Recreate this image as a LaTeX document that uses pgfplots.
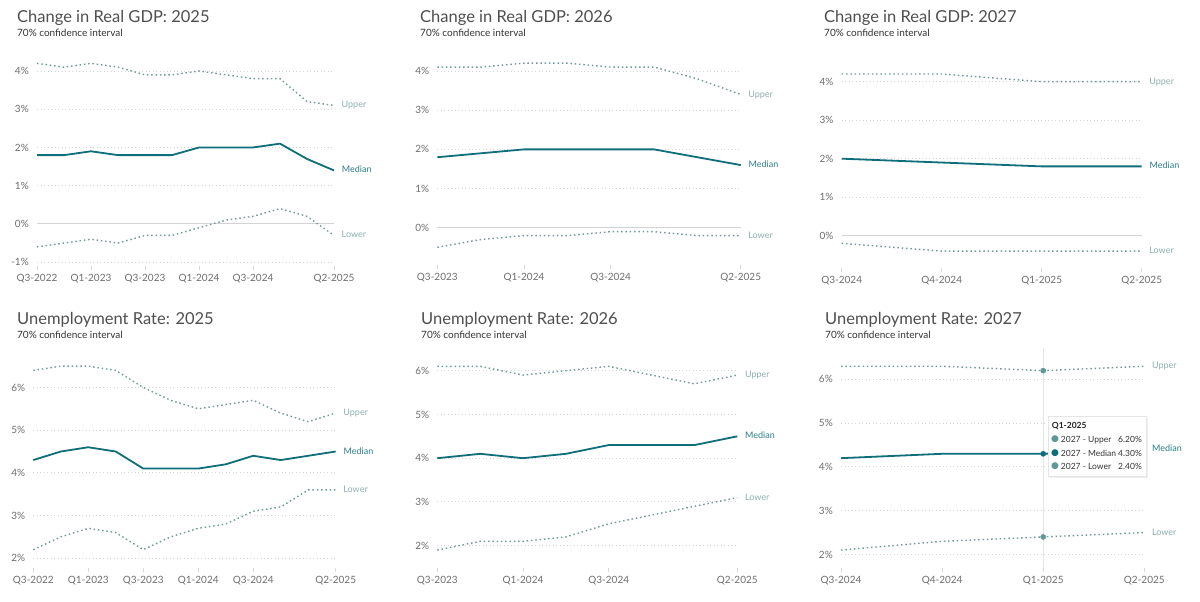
\documentclass[border=0pt]{standalone}
\usepackage{pgfplots}
\pgfplotsset{compat=1.18}
\usepackage{pgfplotstable}
\usepackage{fontspec}
\setmainfont{Lato}
\newfontfamily\symfont{DejaVu Sans}

\definecolor{medc}{HTML}{0E6E7A}
\definecolor{bandc}{HTML}{6F9A9A}
\definecolor{uplbl}{HTML}{8DB0B0}
\definecolor{medlbl}{HTML}{2B7E88}
\definecolor{gridc}{HTML}{D4D4D4}
\definecolor{zeroc}{HTML}{D3D3D3}
\definecolor{tickc}{HTML}{6E6E6E}
\definecolor{tickmc}{HTML}{D9D9D9}
\definecolor{titlec}{HTML}{4F4F4F}
\definecolor{subc}{HTML}{333333}
\definecolor{hoverc}{HTML}{E4E4E4}
\definecolor{dotc}{HTML}{5F9995}

\newcommand\titlef{\fontsize{16.5bp}{20bp}\selectfont}
\newcommand\subf{\fontsize{10bp}{12bp}\selectfont}
\newcommand\tickf{\fontsize{10bp}{12bp}\selectfont}
\newcommand\lblf{\fontsize{9bp}{11bp}\selectfont}
\newcommand\tipf{\fontsize{8.5bp}{10bp}\selectfont}

% x = quarter index from the first quarter shown
\pgfplotstableread{
x U M L
0 4.2 1.8 -0.6
1 4.1 1.8 -0.5
2 4.2 1.9 -0.4
3 4.1 1.8 -0.5
4 3.9 1.8 -0.3
5 3.9 1.8 -0.3
6 4.0 2.0 -0.1
7 3.9 2.0 0.1
8 3.8 2.0 0.2
9 3.8 2.1 0.4
10 3.2 1.7 0.2
11 3.1 1.4 -0.3
}\gdpA
\pgfplotstableread{
x U M L
0 4.1 1.8 -0.5
1 4.1 1.9 -0.3
2 4.2 2.0 -0.2
3 4.2 2.0 -0.2
4 4.1 2.0 -0.1
5 4.1 2.0 -0.1
6 3.8 1.8 -0.2
7 3.4 1.6 -0.2
}\gdpB
\pgfplotstableread{
x U M L
0 4.2 2.0 -0.2
1 4.2 1.9 -0.4
2 4.0 1.8 -0.4
3 4.0 1.8 -0.4
}\gdpC
\pgfplotstableread{
x U M L
0 6.4 4.3 2.2
1 6.5 4.5 2.5
2 6.5 4.6 2.7
3 6.4 4.5 2.6
4 6.0 4.1 2.2
5 5.7 4.1 2.5
6 5.5 4.1 2.7
7 5.6 4.2 2.8
8 5.7 4.4 3.1
9 5.4 4.3 3.2
10 5.2 4.4 3.6
11 5.4 4.5 3.6
}\unA
\pgfplotstableread{
x U M L
0 6.1 4.0 1.9
1 6.1 4.1 2.1
2 5.9 4.0 2.1
3 6.0 4.1 2.2
4 6.1 4.3 2.5
5 5.9 4.3 2.7
6 5.7 4.3 2.9
7 5.9 4.5 3.1
}\unB
\pgfplotstableread{
x U M L
0 6.3 4.2 2.1
1 6.3 4.3 2.3
2 6.2 4.3 2.4
3 6.3 4.4 2.5
}\unC

\pgfplotsset{
  panel/.style={
    scale only axis, anchor=south west, clip=false,
    axis line style={draw=none},
    ymajorgrids,
    major grid style={draw=gridc, line width=0.9bp, dash pattern=on 1bp off 2.5bp},
    tick label style={font=\tickf, text=tickc},
    xtick pos=bottom, ytick pos=left,
    tick align=outside, major tick length=4bp,
    xtick style={draw=tickmc, line width=0.8bp},
    ytick style={draw=none},
    xticklabel style={inner sep=0pt, yshift=-4bp},
    yticklabel style={inner sep=0pt, xshift=-4bp},
  },
  zeroline/.style={extra y ticks={0}, extra y tick labels={0\%},
    extra y tick style={major grid style={solid, draw=zeroc, line width=1.1bp}}},
  longq/.style={xmin=0, xmax=11, xtick={0,2,4,6,8,11},
    xticklabels={Q3-2022,Q1-2023,Q3-2023,Q1-2024,Q3-2024,Q2-2025}},
  midq/.style={xmin=0, xmax=7, xtick={0,2,4,7},
    xticklabels={Q3-2023,Q1-2024,Q3-2024,Q2-2025}},
  shortq/.style={xmin=0, xmax=3, xtick={0,1,2,3},
    xticklabels={Q3-2024,Q4-2024,Q1-2025,Q2-2025}},
  band/.style={no marks, draw=bandc, line width=1.4bp, dash pattern=on 1.5bp off 2.8bp},
  mid/.style={no marks, draw=medc, line width=1.8bp, line join=round},
}
\tikzset{lbl/.style={anchor=mid west, inner sep=0pt, xshift=7bp, font=\lblf}}

\begin{document}
\begin{tikzpicture}
\useasboundingbox (0,0) rectangle (1200bp,-602bp);
\fill[white] (0,0) rectangle (1200bp,-602bp);

% titles
\foreach \tx/\ty/\ttl in {17/22.5/Change in Real GDP: 2025, 420/22.5/Change in Real GDP: 2026, 824/22.5/Change in Real GDP: 2027,
  17/324.3/Unemployment Rate: 2025, 421/324.3/Unemployment Rate: 2026, 825/324.3/Unemployment Rate: 2027}{
  \node[anchor=base west, inner sep=0pt, font=\titlef, text=titlec] at (\tx bp,-\ty bp) {\ttl};
  \node[anchor=base west, inner sep=0pt, font=\subf, text=subc] at (\tx bp,-\ty bp-13.7bp) {70\% confidence interval};
}

% GDP 2025
\begin{axis}[panel, zeroline, longq, at={(37bp,-266bp)}, width=297bp, height=195bp,
  ymin=-1.1, ymax=4, ytick={-1,1,2,3,4}, yticklabels={-1\%,1\%,2\%,3\%,4\%}]
\addplot[band] table[x=x,y=U] {\gdpA} node[pos=1, lbl, text=uplbl] {Upper};
\addplot[band] table[x=x,y=L] {\gdpA} node[pos=1, lbl, text=uplbl] {Lower};
\addplot[mid] table[x=x,y=M] {\gdpA} node[pos=1, lbl, text=medlbl] {Median};
\end{axis}

% GDP 2026
\begin{axis}[panel, zeroline, midq, at={(437.3bp,-265bp)}, width=303.4bp, height=194bp,
  ymin=-0.95, ymax=4, ytick={1,2,3,4}, yticklabels={1\%,2\%,3\%,4\%}]
\addplot[band] table[x=x,y=U] {\gdpB} node[pos=1, lbl, text=uplbl] {Upper};
\addplot[band] table[x=x,y=L] {\gdpB} node[pos=1, lbl, text=uplbl] {Lower};
\addplot[mid] table[x=x,y=M] {\gdpB} node[pos=1, lbl, text=medlbl] {Median};
\end{axis}

% GDP 2027
\begin{axis}[panel, zeroline, shortq, at={(841.7bp,-268bp)}, width=300bp, height=186.3bp,
  ymin=-0.84, ymax=4, ytick={1,2,3,4}, yticklabels={1\%,2\%,3\%,4\%}]
\addplot[band] table[x=x,y=U] {\gdpC} node[pos=1, lbl, text=uplbl] {Upper};
\addplot[band] table[x=x,y=L] {\gdpC} node[pos=1, lbl, text=uplbl] {Lower};
\addplot[mid] table[x=x,y=M] {\gdpC} node[pos=1, lbl, text=medlbl] {Median};
\end{axis}

% Unemployment 2025
\begin{axis}[panel, longq, at={(33.3bp,-568bp)}, width=302.4bp, height=180.5bp,
  ymin=1.77, ymax=6, ytick={2,3,4,5,6}, yticklabels={2\%,3\%,4\%,5\%,6\%}]
\addplot[band] table[x=x,y=U] {\unA} node[pos=1, lbl, text=uplbl] {Upper};
\addplot[band] table[x=x,y=L] {\unA} node[pos=1, lbl, text=uplbl] {Lower};
\addplot[mid] table[x=x,y=M] {\unA} node[pos=1, lbl, text=medlbl] {Median};
\end{axis}

% Unemployment 2026
\begin{axis}[panel, midq, at={(437.3bp,-568bp)}, width=300bp, height=197.3bp,
  ymin=1.49, ymax=6, ytick={2,3,4,5,6}, yticklabels={2\%,3\%,4\%,5\%,6\%}]
\addplot[band] table[x=x,y=U] {\unB} node[pos=1, lbl, text=uplbl] {Upper};
\addplot[band] table[x=x,y=L] {\unB} node[pos=1, lbl, text=uplbl] {Lower};
\addplot[mid] table[x=x,y=M] {\unB} node[pos=1, lbl, text=medlbl] {Median};
\end{axis}

% Unemployment 2027 (with hover state at Q1-2025)
\begin{axis}[panel, shortq, at={(841bp,-568bp)}, width=303.3bp, height=188.6bp,
  ymin=1.69, ymax=6, ytick={2,3,4,5,6}, yticklabels={2\%,3\%,4\%,5\%,6\%}]
\draw[hoverc, line width=0.8bp] (axis cs:2,1.69) -- (axis cs:2,6.72);
\addplot[band] table[x=x,y=U] {\unC} node[pos=1, lbl, text=uplbl] {Upper};
\addplot[band] table[x=x,y=L] {\unC} node[pos=1, lbl, text=uplbl] {Lower};
\addplot[mid] table[x=x,y=M] {\unC} node[pos=1, lbl, text=medlbl] {Median};
\addplot[only marks, mark=*, mark size=2.6bp, color=dotc] coordinates {(2,6.2) (2,2.4)};
\addplot[only marks, mark=*, mark size=2.6bp, color=medc] coordinates {(2,4.3)};
\end{axis}

% tooltip
\fill[black!7] (1049.5bp,-417.5bp) rectangle (1147.5bp,-477.5bp);
\draw[draw=black!10, fill=white, line width=0.6bp] (1048bp,-416bp) rectangle (1146bp,-476bp);
\node[anchor=base west, inner sep=0pt, font=\tipf\bfseries, text=black!85] at (1051.7bp,-428.5bp) {Q1-2025};
\foreach \ry/\rn/\rv/\rc in {442.8/Upper/6.20/dotc, 456.2/Median/4.30/medc, 469.5/Lower/2.40/dotc}{
  \node[inner sep=0pt, font=\fontsize{9bp}{9bp}\symfont, text=\rc] at (1055bp,-\ry bp+3.2bp) {●};
  \node[anchor=base west, inner sep=0pt, font=\tipf, text=black!80] at (1060.7bp,-\ry bp) {2027 - \rn};
  \node[anchor=base east, inner sep=0pt, font=\tipf, text=black!80] at (1142bp,-\ry bp) {\rv\%};
}
\end{tikzpicture}
\end{document}
